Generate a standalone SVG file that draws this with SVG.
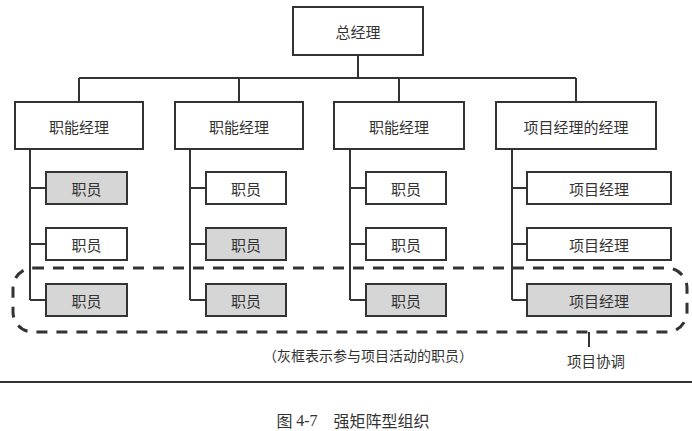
<svg xmlns="http://www.w3.org/2000/svg" width="692" height="431" viewBox="0 0 692 431">
<style>
.box{fill:#fff;stroke:#333;stroke-width:2}
.g{fill:#d6d6d6;stroke:#333;stroke-width:2}
.ln{fill:none;stroke:#333;stroke-width:2}
text{font-family:"Noto Sans CJK SC","Noto Sans",sans-serif;font-size:15px;fill:#333;text-anchor:middle;dominant-baseline:central}
</style>
<rect width="692" height="431" fill="#fff"/>
<g id="connectors">
<path class="ln" d="M358,55V78M79,78H576M79,78V102M239,78V102M399,78V102M576,78V102"/>
<path class="ln" d="M30,149V300M30,188H46M30,244H46M30,300H46"/>
<path class="ln" d="M190,149V300M190,188H206M190,244H206M190,300H206"/>
<path class="ln" d="M350,149V300M350,188H366M350,244H366M350,300H366"/>
<path class="ln" d="M512,149V300M512,188H527M512,244H527M512,300H527"/>
<path class="ln" d="M589,332V347"/>
</g>
<g id="gm"><rect class="box" x="293" y="7" width="130" height="48"/><text x="358" y="31">总经理</text></g>
<g id="fm1"><rect class="box" x="15" y="102" width="128" height="47"/><text x="79" y="126">职能经理</text></g>
<g id="fm2"><rect class="box" x="175" y="102" width="128" height="47"/><text x="239" y="126">职能经理</text></g>
<g id="fm3"><rect class="box" x="334" y="102" width="130" height="47"/><text x="399" y="126">职能经理</text></g>
<g id="pmm"><rect class="box" x="496" y="102" width="160" height="47"/><text x="576" y="126">项目经理的经理</text></g>
<g id="s11"><rect class="g" x="46" y="172" width="81" height="32"/><text x="86.5" y="188">职员</text></g>
<g id="s12"><rect class="box" x="46" y="228" width="81" height="32"/><text x="86.5" y="244">职员</text></g>
<g id="s13"><rect class="g" x="46" y="284" width="81" height="32"/><text x="86.5" y="300">职员</text></g>
<g id="s21"><rect class="box" x="206" y="172" width="80" height="32"/><text x="246" y="188">职员</text></g>
<g id="s22"><rect class="g" x="206" y="228" width="80" height="32"/><text x="246" y="244">职员</text></g>
<g id="s23"><rect class="g" x="206" y="284" width="80" height="32"/><text x="246" y="300">职员</text></g>
<g id="s31"><rect class="box" x="366" y="172" width="80" height="32"/><text x="406" y="188">职员</text></g>
<g id="s32"><rect class="box" x="366" y="228" width="80" height="32"/><text x="406" y="244">职员</text></g>
<g id="s33"><rect class="g" x="366" y="284" width="80" height="32"/><text x="406" y="300">职员</text></g>
<g id="p1"><rect class="box" x="527" y="172" width="144" height="32"/><text x="599" y="188">项目经理</text></g>
<g id="p2"><rect class="box" x="527" y="228" width="144" height="32"/><text x="599" y="244">项目经理</text></g>
<g id="p3"><rect class="g" x="527" y="284" width="144" height="32"/><text x="599" y="300">项目经理</text></g>
<g id="coord"><rect x="13" y="268" width="674" height="64" rx="20" ry="20" fill="none" stroke="#333" stroke-width="3" stroke-dasharray="11 9"/></g>
<text x="368" y="355" style="font-size:14px">（灰框表示参与项目活动的职员）</text>
<text x="596" y="360" style="font-size:14.5px">项目协调</text>
<path d="M0,382H692" stroke="#333" stroke-width="2"/>
<text x="353" y="420" style="font-size:16px">图 <tspan style="font-family:'Liberation Serif',serif">4-7</tspan>　强矩阵型组织</text>
</svg>
